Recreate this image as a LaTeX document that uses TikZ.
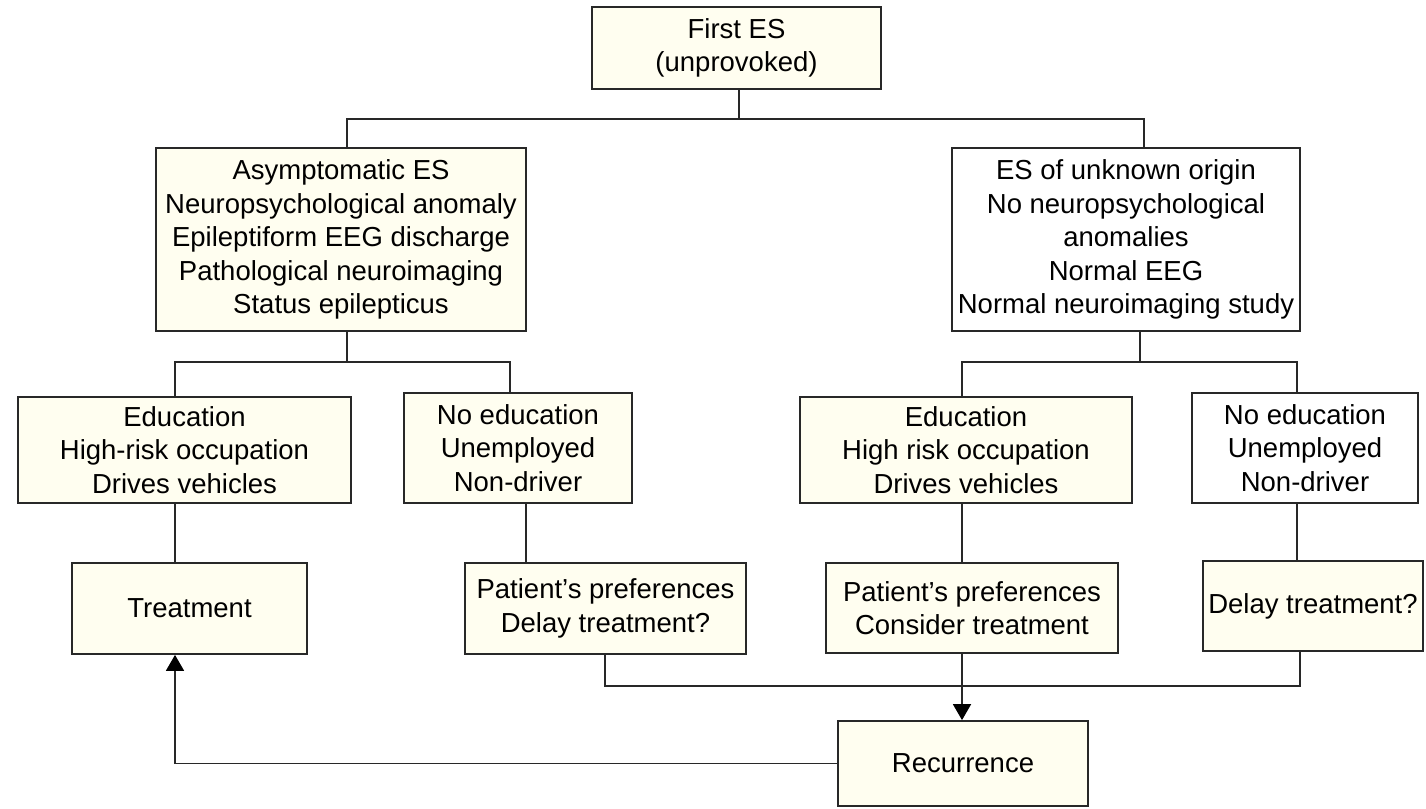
\documentclass[tikz,border=0pt]{standalone}
\usepackage{fontspec}
\setmainfont{Liberation Sans}
\usetikzlibrary{arrows.meta,calc}
\definecolor{cream}{RGB}{255,254,240}
\definecolor{edgegray}{RGB}{40,40,40}
\begin{document}
\begin{tikzpicture}[x=1pt,y=-1pt,
  box/.style={draw=edgegray, line width=1.8pt, fill=cream, inner sep=0pt, align=center,
              font=\fontsize{27.5}{33.5}\selectfont},
  wbox/.style={box, fill=white},
  conn/.style={draw=edgegray, line width=1.8pt},
  arr/.style={conn, -{Triangle[width=18pt,length=16pt,color=black]}}]
\useasboundingbox (0,0) rectangle (1426,808);

% boxes
\node[box,  minimum width=289pt, minimum height=82pt]  (first) at (736.5,48)  {First ES\\(unprovoked)};
\node[box,  minimum width=370pt, minimum height=183pt] (asym)  at (341,239.5) {Asymptomatic ES\\Neuropsychological anomaly\\Epileptiform EEG discharge\\Pathological neuroimaging\\Status epilepticus};
\node[wbox, minimum width=348pt, minimum height=183pt] (unk)   at (1126,239.5) {ES of unknown origin\\No neuropsychological\\anomalies\\Normal EEG\\Normal neuroimaging study};
\node[box,  minimum width=333pt, minimum height=106pt] (eduL)  at (184.5,450) {Education\\High-risk occupation\\Drives vehicles};
\node[box,  minimum width=228pt, minimum height=110pt] (noedL) at (518,448)   {No education\\Unemployed\\Non-driver};
\node[box,  minimum width=332pt, minimum height=106pt] (eduR)  at (966,450)   {Education\\High risk occupation\\Drives vehicles};
\node[wbox, minimum width=226pt, minimum height=110pt] (noedR) at (1305,448)  {No education\\Unemployed\\Non-driver};
\node[box,  minimum width=235pt, minimum height=91pt]  (treat) at (189.5,608.5) {Treatment};
\node[box,  minimum width=281pt, minimum height=91pt]  (patL)  at (605.5,608.5) {Patient’s preferences\\Delay treatment?};
\node[box,  minimum width=292pt, minimum height=90pt]  (patR)  at (972,608)   {Patient’s preferences\\Consider treatment};
\node[box,  minimum width=220pt, minimum height=90pt]  (delay) at (1313,606)  {Delay treatment?};
\node[box,  minimum width=250pt, minimum height=85pt]  (rec)   at (963,763.5) {Recurrence};

% guide coordinates
\coordinate (c739)  at (739,0);
\coordinate (c347)  at (347,0);
\coordinate (c1144) at (1144,0);
\coordinate (c1140) at (1140,0);
\coordinate (c175)  at (175,0);
\coordinate (c510)  at (510,0);
\coordinate (c526)  at (526,0);
\coordinate (c962)  at (962,0);
\coordinate (c1297) at (1297,0);
\coordinate (c1300) at (1300,0);
\coordinate (c605)  at (605,0);
\coordinate (j1) at (0,119);
\coordinate (j2) at (0,362);
\coordinate (j3) at (0,686);

% connectors
\draw[conn] (first.south -| c739) -- (c739 |- j1);
\draw[conn] (asym.north -| c347) -- (c347 |- j1) -- (c1144 |- j1) -- (unk.north -| c1144);
\draw[conn] (asym.south -| c347) -- (c347 |- j2);
\draw[conn] (eduL.north -| c175) -- (c175 |- j2) -- (c510 |- j2) -- (noedL.north -| c510);
\draw[conn] (unk.south -| c1140) -- (c1140 |- j2);
\draw[conn] (eduR.north -| c962) -- (c962 |- j2) -- (c1297 |- j2) -- (noedR.north -| c1297);
\draw[conn] (eduL.south -| c175) -- (treat.north -| c175);
\draw[conn] (noedL.south -| c526) -- (patL.north -| c526);
\draw[conn] (eduR.south -| c962) -- (patR.north -| c962);
\draw[conn] (noedR.south -| c1297) -- (delay.north -| c1297);
\draw[conn] (patL.south -| c605) -- (c605 |- j3) -- (c1300 |- j3) -- (delay.south -| c1300);
\draw[arr] (patR.south -| c962) -- (rec.north -| c962);
\draw[arr] (rec.west) -- (rec.west -| c175) -- (treat.south -| c175);
\end{tikzpicture}
\end{document}
